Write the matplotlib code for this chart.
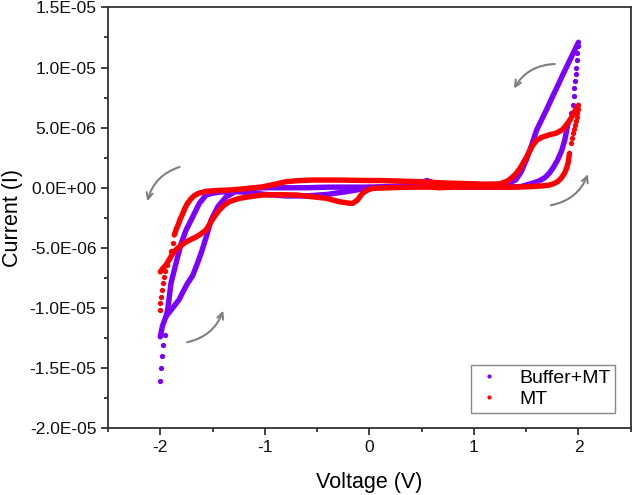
import matplotlib
matplotlib.use("Agg")
import matplotlib.pyplot as plt
from matplotlib.lines import Line2D
from matplotlib.ticker import FuncFormatter, MultipleLocator
import numpy as np

plt.rcParams['font.family'] = ['Liberation Sans', 'DejaVu Sans']
plt.rcParams['axes.unicode_minus'] = False

# currents are in units of 1e-6 A
# ---- Buffer+MT ----
buf_fwd_pos_v = [0.0, 0.2, 0.4, 0.5, 0.55, 0.6, 0.7, 0.9, 1.1, 1.3, 1.45, 1.55, 1.62, 1.68, 1.72, 1.76, 1.8, 1.84, 1.87, 1.9]
buf_fwd_pos_i = [0.05, 0.1, 0.2, 0.45, 0.6, 0.45, 0.15, 0.05, 0.05, 0.05, 0.1, 0.35, 0.55, 0.85, 1.2, 1.7, 2.3, 3.1, 4.0, 5.35]
buf_jump_pos_v = [1.93, 1.945, 1.955, 1.962, 1.968, 1.974, 1.98, 1.985, 1.99, 1.995]
buf_jump_pos_i = [6.2, 6.9, 7.6, 8.3, 8.9, 9.5, 10.0, 10.6, 11.2, 11.8]
buf_ret_pos_v = [2.0, 1.95, 1.9, 1.85, 1.8, 1.75, 1.7, 1.65, 1.6, 1.55, 1.5, 1.45, 1.4, 1.34, 1.25, 1.1, 0.9, 0.7, 0.5, 0.3, 0.1, 0.0]
buf_ret_pos_i = [12.1, 11.2, 10.3, 9.4, 8.45, 7.55, 6.6, 5.7, 4.8, 3.5, 2.3, 1.3, 0.65, 0.4, 0.3, 0.25, 0.2, 0.2, 0.15, 0.1, 0.05, 0.0]
buf_fwd_neg_v = [0.0, -0.2, -0.4, -0.6, -0.8, -1.0, -1.15, -1.3, -1.42, -1.5, -1.563, -1.627, -1.69, -1.754, -1.8, -1.834, -1.866, -1.898, -1.914, -1.93, -1.945]
buf_fwd_neg_i = [0.0, -0.3, -0.55, -0.68, -0.68, -0.55, -0.4, -0.3, -0.35, -0.45, -0.61, -1.3, -2.41, -3.52, -4.62, -5.73, -6.84, -7.94, -9.06, -10.16, -10.72]
buf_jump_neg_v = [-1.96, -1.97, -1.984, -1.99, -2.0]
buf_jump_neg_i = [-12.24, -13.07, -14.0, -15.0, -16.04]
buf_ret_neg_v = [-2.0, -1.98, -1.946, -1.9, -1.86, -1.82, -1.78, -1.74, -1.69, -1.65, -1.61, -1.56, -1.515, -1.45, -1.37, -1.3, -1.24, -1.15, -1.0, -0.8, -0.6, -0.4, -0.2, 0.0]
buf_ret_neg_i = [-12.4, -11.5, -10.7, -10.2, -9.75, -9.3, -8.6, -7.95, -7.3, -6.4, -5.45, -4.07, -2.7, -1.58, -0.75, -0.4, -0.19, -0.05, 0.0, 0.0, 0.0, 0.05, 0.05, 0.05]

# ---- MT ----
mt_fwd_pos_v = [0.03, 0.2, 0.4, 0.6, 0.67, 0.8, 1.0, 1.2, 1.4, 1.55, 1.65, 1.72, 1.76, 1.8, 1.835, 1.866, 1.885, 1.9, 1.914]
mt_fwd_pos_i = [-0.05, 0.0, 0.05, 0.05, 0.0, 0.05, 0.05, 0.05, 0.05, 0.1, 0.15, 0.22, 0.33, 0.5, 0.8, 1.2, 1.6, 2.03, 2.86]
mt_jump_pos_v = [1.93, 1.942, 1.952, 1.96, 1.968, 1.975, 1.982, 1.988, 1.994]
mt_jump_pos_i = [3.69, 4.1, 4.52, 4.85, 5.2, 5.55, 5.9, 6.2, 6.55]
mt_ret_pos_v = [2.0, 1.96, 1.93, 1.9, 1.85, 1.79, 1.72, 1.65, 1.6, 1.56, 1.53, 1.5, 1.47, 1.44, 1.4, 1.37, 1.33, 1.29, 1.24, 1.1, 0.9, 0.7, 0.5, 0.3, 0.1, 0.0]
mt_ret_pos_i = [6.86, 6.3, 5.8, 5.4, 4.85, 4.55, 4.4, 4.2, 3.95, 3.5, 3.0, 2.5, 2.05, 1.6, 1.15, 0.9, 0.6, 0.45, 0.3, 0.3, 0.35, 0.4, 0.5, 0.55, 0.6, 0.6]
mt_fwd_neg_v = [0.0, -0.3, -0.55, -0.7, -0.8, -0.9, -1.02, -1.15, -1.34, -1.45, -1.563, -1.63, -1.675, -1.71, -1.74, -1.765, -1.785, -1.81, -1.83, -1.85, -1.866]
mt_fwd_neg_i = [0.6, 0.64, 0.64, 0.58, 0.5, 0.3, 0.08, -0.05, -0.19, -0.22, -0.3, -0.45, -0.65, -0.95, -1.3, -1.7, -2.13, -2.6, -3.1, -3.5, -3.93]
mt_jump_neg_v = [-1.88, -1.9, -1.92, -1.94, -1.955, -1.967, -1.978, -1.988, -1.995, -1.999, -2.0]
mt_jump_neg_i = [-4.62, -5.3, -5.9, -6.4, -6.9, -7.4, -7.9, -8.5, -9.1, -9.6, -10.15]
mt_ret_neg_v = [-2.0, -1.975, -1.946, -1.91, -1.88, -1.85, -1.818, -1.77, -1.72, -1.67, -1.627, -1.563, -1.515, -1.475, -1.435, -1.39, -1.34, -1.244, -1.148, -1.02, -0.85, -0.7, -0.545, -0.41, -0.29, -0.2, -0.16, -0.115, -0.067, -0.02, 0.03]
mt_ret_neg_i = [-7.0, -6.7, -6.42, -5.9, -5.45, -5.15, -4.9, -4.6, -4.35, -4.15, -3.93, -3.52, -2.83, -2.3, -1.85, -1.45, -1.16, -0.88, -0.75, -0.6, -0.58, -0.6, -0.75, -0.88, -1.16, -1.28, -1.3, -1.03, -0.47, -0.2, -0.05]

buf_color = '#7B00FF'
mt_color = '#FF0000'
scale = 1e-6

fig = plt.figure(figsize=(6.32, 4.95), dpi=100)
ax = fig.add_axes([0.171, 0.135, 0.827, 0.85])

series = [
    (buf_color, [(buf_fwd_pos_v, buf_fwd_pos_i), (buf_ret_pos_v, buf_ret_pos_i),
                 (buf_fwd_neg_v, buf_fwd_neg_i), (buf_ret_neg_v, buf_ret_neg_i)],
     [(buf_jump_pos_v, buf_jump_pos_i), (buf_jump_neg_v, buf_jump_neg_i)]),
    (mt_color, [(mt_fwd_pos_v, mt_fwd_pos_i), (mt_ret_pos_v, mt_ret_pos_i),
                (mt_fwd_neg_v, mt_fwd_neg_i), (mt_ret_neg_v, mt_ret_neg_i)],
     [(mt_jump_pos_v, mt_jump_pos_i), (mt_jump_neg_v, mt_jump_neg_i)]),
]

for color, dense, dotted in series:
    # densely sampled parts look like a solid thick line
    for v, i in dense:
        ax.plot(v, np.array(i) * scale, '-', color=color, lw=3.9,
                solid_capstyle='round', solid_joinstyle='round')
    # sparse parts at the sweep ends show separate dots
    for v, i in dotted:
        ax.plot(v, np.array(i) * scale, 'o', color=color, ms=3.8, mec='none')

# sweep direction arrows
arrows = [((1.80, 10.3), (1.37, 8.05)),
          ((1.71, -1.5), (2.10, 1.35)),
          ((-1.79, 1.8), (-2.13, -1.35)),
          ((-1.77, -12.9), (-1.39, -10.0))]
for tail, head in arrows:
    ax.annotate('', xy=(head[0], head[1] * scale), xytext=(tail[0], tail[1] * scale),
                arrowprops=dict(arrowstyle='->,head_length=0.45,head_width=0.22',
                                connectionstyle='arc3,rad=0.3', color='#808080', lw=1.5))

ax.set_xlim(-2.5, 2.5)
ax.set_ylim(-2.0e-5, 1.5e-5)
ax.xaxis.set_major_locator(MultipleLocator(1))
ax.xaxis.set_minor_locator(MultipleLocator(0.5))
ax.yaxis.set_major_locator(MultipleLocator(5e-6))
ax.yaxis.set_minor_locator(MultipleLocator(2.5e-6))
ax.yaxis.set_major_formatter(FuncFormatter(lambda y, p: f"{y:.1E}"))
ax.tick_params(which='major', direction='out', length=5, width=1.3, labelsize=12.5,
               colors='#333333', labelcolor='#111111')
ax.tick_params(which='minor', direction='out', length=3, width=1.3, colors='#333333')
for s in ax.spines.values():
    s.set_linewidth(1.3)
    s.set_color('#333333')

ax.set_xlabel('Voltage (V)', fontsize=15.5)
ax.set_ylabel('Current (I)', fontsize=15.5)
ax.xaxis.set_label_coords(0.5, -0.103)
ax.yaxis.set_label_coords(-0.163, 0.5)

handles = [Line2D([], [], ls='none', marker='o', ms=3, color=buf_color, mec='none'),
           Line2D([], [], ls='none', marker='o', ms=3, color=mt_color, mec='none')]
leg = ax.legend(handles, ['Buffer+MT', 'MT'], loc='lower right', fontsize=14,
                fancybox=False, framealpha=1, edgecolor='#888888', borderaxespad=0.8,
                handlelength=1.3, handletextpad=0.9, labelspacing=0.15, borderpad=0.25)
leg.get_frame().set_linewidth(1.0)

fig.savefig('out.png', dpi=100)
